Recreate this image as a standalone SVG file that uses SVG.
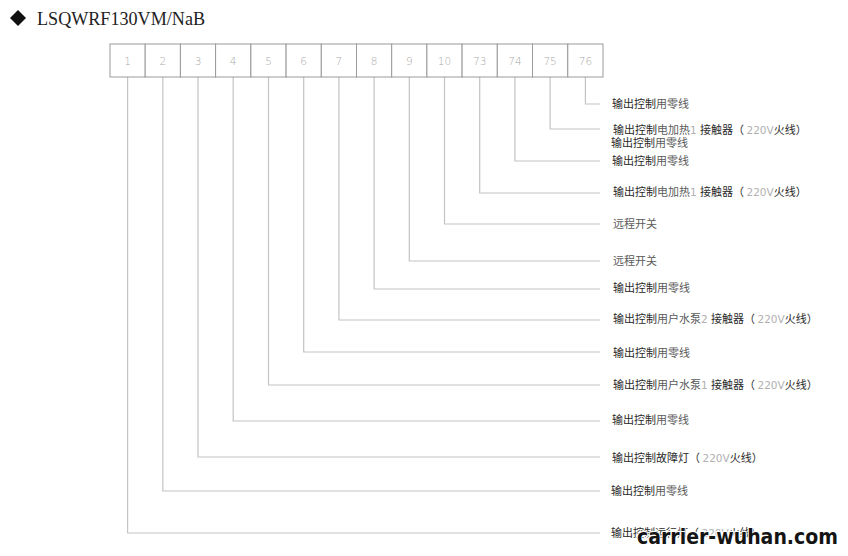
<svg xmlns="http://www.w3.org/2000/svg" width="848" height="556" viewBox="0 0 848 556">
<style>
.box{fill:#fff;stroke:#9a9a9a;stroke-width:1}
.num{font-family:"DejaVu Sans","Liberation Sans",sans-serif;font-size:10.5px;fill:#a8a8a8;text-anchor:middle;font-weight:300}
.wire{fill:none;stroke:#c4c4c4;stroke-width:1.2}
.lbl{font-family:"Noto Sans CJK SC","Noto Sans",sans-serif;font-size:11px;fill:#2a2a2a}
.lt{fill:#5a5a5a}
.g{fill:#b0b0b0;font-family:"DejaVu Sans","Liberation Sans",sans-serif;font-size:10.5px}
.title{font-family:"Liberation Serif","DejaVu Serif",serif;font-size:19px;fill:#222}
.wm{font-family:"DejaVu Sans","Liberation Sans",sans-serif;font-weight:bold;font-size:22px;fill:#141414;stroke:#fff;stroke-width:2.2px;paint-order:stroke}
</style>
<rect width="848" height="556" fill="#fff"/>
<g id="title">
<path d="M10 18 L18 10 L26 18 L18 26 Z" fill="#111"/>
<text class="title" x="37" y="25" textLength="168" lengthAdjust="spacingAndGlyphs">LSQWRF130VM/NaB</text>
</g>
<g id="connectors">
<path class="wire" d="M127.6 77 V533 H600"/>
<path class="wire" d="M162.8 77 V491 H600"/>
<path class="wire" d="M198 77 V457 H600"/>
<path class="wire" d="M233.2 77 V421 H600"/>
<path class="wire" d="M268.5 77 V385 H600"/>
<path class="wire" d="M303.7 77 V352 H600"/>
<path class="wire" d="M338.9 77 V320 H600"/>
<path class="wire" d="M374.1 77 V289 H600"/>
<path class="wire" d="M409.3 77 V261 H600"/>
<path class="wire" d="M444.5 77 V224 H600"/>
<path class="wire" d="M479.7 77 V193 H600"/>
<path class="wire" d="M514.9 77 V161 H600"/>
<path class="wire" d="M550.1 77 V129 H600"/>
<path class="wire" d="M585.4 77 V104 H600"/>
</g>
<g id="t1"><rect class="box" x="110" y="44" width="35.2" height="33"/><text class="num" x="127.6" y="65">1</text></g>
<g id="t2"><rect class="box" x="145.2" y="44" width="35.2" height="33"/><text class="num" x="162.8" y="65">2</text></g>
<g id="t3"><rect class="box" x="180.4" y="44" width="35.2" height="33"/><text class="num" x="198" y="65">3</text></g>
<g id="t4"><rect class="box" x="215.6" y="44" width="35.2" height="33"/><text class="num" x="233.2" y="65">4</text></g>
<g id="t5"><rect class="box" x="250.9" y="44" width="35.2" height="33"/><text class="num" x="268.5" y="65">5</text></g>
<g id="t6"><rect class="box" x="286.1" y="44" width="35.2" height="33"/><text class="num" x="303.7" y="65">6</text></g>
<g id="t7"><rect class="box" x="321.3" y="44" width="35.2" height="33"/><text class="num" x="338.9" y="65">7</text></g>
<g id="t8"><rect class="box" x="356.5" y="44" width="35.2" height="33"/><text class="num" x="374.1" y="65">8</text></g>
<g id="t9"><rect class="box" x="391.7" y="44" width="35.2" height="33"/><text class="num" x="409.3" y="65">9</text></g>
<g id="t10"><rect class="box" x="426.9" y="44" width="35.2" height="33"/><text class="num" x="444.5" y="65">10</text></g>
<g id="t73"><rect class="box" x="462.1" y="44" width="35.2" height="33"/><text class="num" x="479.7" y="65">73</text></g>
<g id="t74"><rect class="box" x="497.3" y="44" width="35.2" height="33"/><text class="num" x="514.9" y="65">74</text></g>
<g id="t75"><rect class="box" x="532.5" y="44" width="35.2" height="33"/><text class="num" x="550.1" y="65">75</text></g>
<g id="t76"><rect class="box" x="567.8" y="44" width="35.2" height="33"/><text class="num" x="585.4" y="65">76</text></g>
<g id="label76"><text class="lbl" x="612" y="108">输出控制<tspan class="lt">用零线</tspan></text></g>
<g id="label75"><text class="lbl" x="613" y="134">输出控制<tspan class="lt">电加热</tspan><tspan class="g">1 </tspan>接触器（ <tspan class="g">220V</tspan>火线）</text>
<text class="lbl" x="611" y="147">输出控制<tspan class="lt">用零线</tspan></text></g>
<g id="label74"><text class="lbl" x="612" y="165">输出控制<tspan class="lt">用零线</tspan></text></g>
<g id="label73"><text class="lbl" x="613" y="196">输出控制<tspan class="lt">电加热</tspan><tspan class="g">1 </tspan>接触器（ <tspan class="g">220V</tspan>火线）</text></g>
<g id="label10"><text class="lbl lt" x="613" y="228">远程开关</text></g>
<g id="label9"><text class="lbl lt" x="613" y="265">远程开关</text></g>
<g id="label8"><text class="lbl" x="613" y="292">输出控制<tspan class="lt">用零线</tspan></text></g>
<g id="label7"><text class="lbl" x="613" y="323">输出控制<tspan class="lt">用户水泵</tspan><tspan class="g">2 </tspan>接触器（ <tspan class="g">220V</tspan>火线）</text></g>
<g id="label6"><text class="lbl" x="613" y="357">输出控制<tspan class="lt">用零线</tspan></text></g>
<g id="label5"><text class="lbl" x="613" y="389">输出控制<tspan class="lt">用户水泵</tspan><tspan class="g">1 </tspan>接触器（ <tspan class="g">220V</tspan>火线）</text></g>
<g id="label4"><text class="lbl" x="612" y="424">输出控制<tspan class="lt">用零线</tspan></text></g>
<g id="label3"><text class="lbl" x="612" y="462">输出控制故障灯（ <tspan class="g">220V</tspan>火线）</text></g>
<g id="label2"><text class="lbl" x="611" y="495">输出控制<tspan class="lt">用零线</tspan></text></g>
<g id="label1"><text class="lbl" x="611" y="537">输出控制运行灯（ <tspan class="g">220V</tspan>火线）</text></g>
<g id="watermark"><text class="wm" x="637" y="544" textLength="201" lengthAdjust="spacingAndGlyphs">carrier-wuhan.com</text></g>
</svg>
